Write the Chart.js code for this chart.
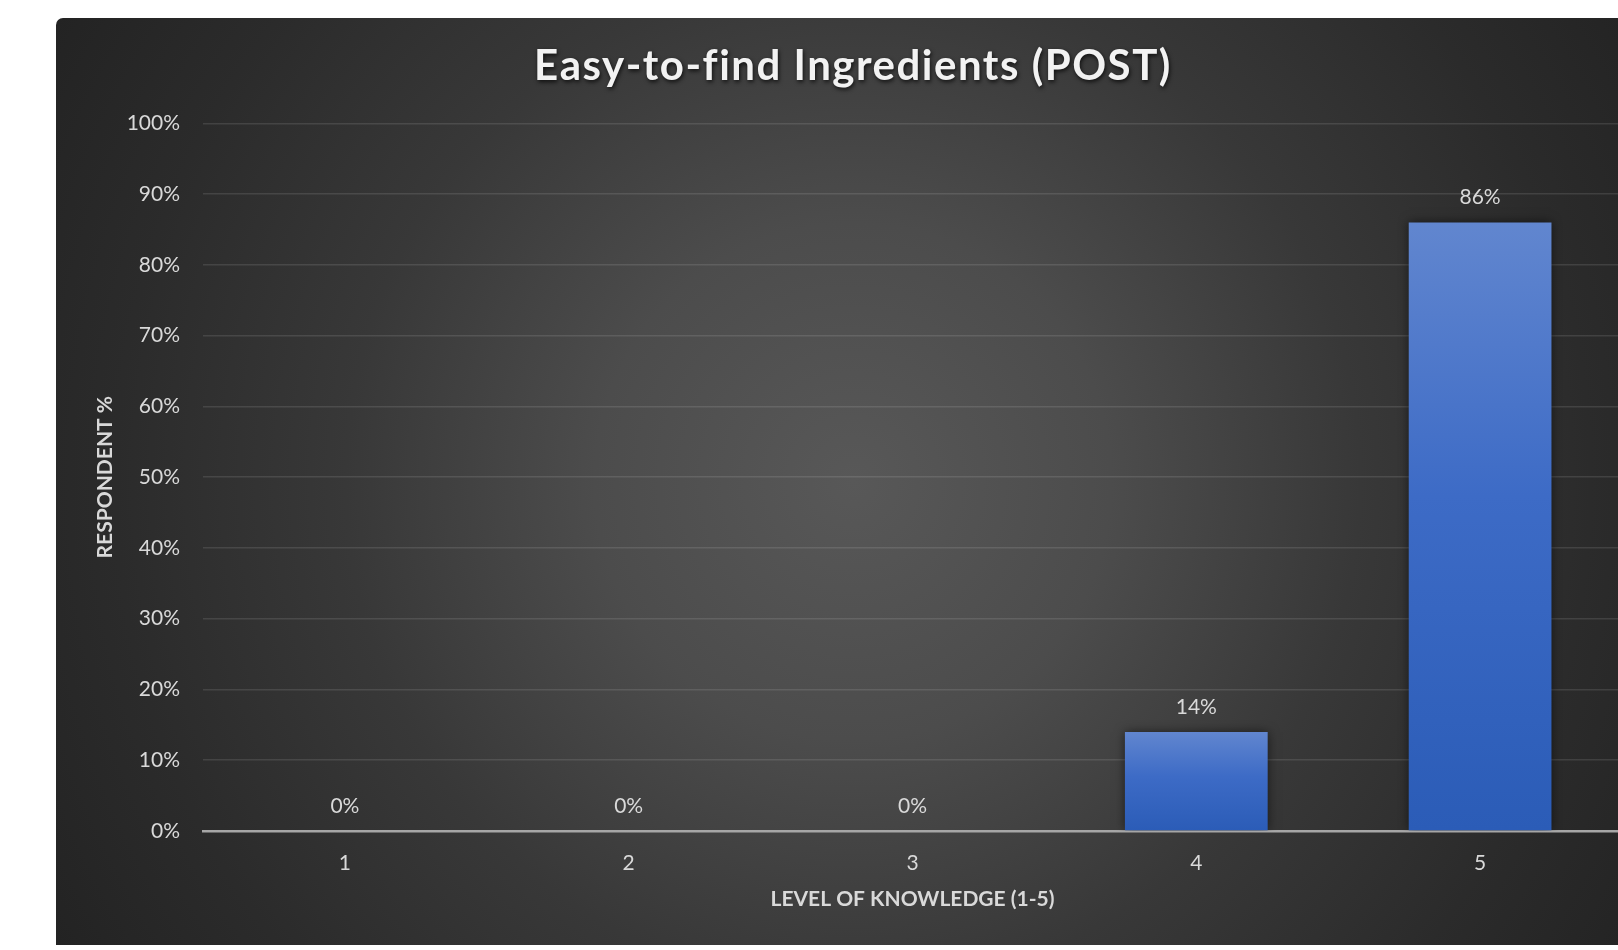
<!DOCTYPE html>
<html>
<head>
<meta charset="utf-8">
<script src="https://cdn.jsdelivr.net/npm/chart.js@4.4.1/dist/chart.umd.min.js"></script>
<style>
  html, body { margin: 0; padding: 0; background: #ffffff; overflow: hidden; width: 1618px; height: 950px; }
  #panel {
    position: absolute; left: 56px; top: 18px; width: 1594px; height: 927px;
    border-top-left-radius: 7px;
    background: radial-gradient(circle farthest-corner at 50% 50%, #585858 0%, #4c4c4c 28%, #383838 55%, #2b2b2b 80%, #232323 100%);
  }
  canvas { display: block; }
</style>
</head>
<body>
<div id="panel"><canvas id="chart" width="1594" height="927"></canvas></div>
<script>
// Survey results: share of respondents at each knowledge level
const levels = ['1', '2', '3', '4', '5'];
const respondentPct = [0, 0, 0, 14, 86];
const yTickValues = [0, 10, 20, 30, 40, 50, 60, 70, 80, 90, 100];

const chartTitle = 'Easy-to-find Ingredients (POST)';
const xTitle = 'LEVEL OF KNOWLEDGE (1-5)';
const yTitle = 'RESPONDENT %';

const FONT = 'Lato, "Open Sans", "DejaVu Sans", sans-serif';
const TEXT = '#d9d9d9';

// Per-bar vertical gradient, light at the top and deeper blue at the base
function barFill(c) {
  const chart = c.chart;
  if (!chart.chartArea || c.raw === undefined) return '#3f6cc4';
  const y = chart.scales.y;
  const top = y.getPixelForValue(c.raw);
  const base = y.getPixelForValue(0);
  if (Math.abs(base - top) < 1) return '#3f6cc4';
  const g = chart.ctx.createLinearGradient(0, top, 0, base);
  g.addColorStop(0, '#6186cf');
  g.addColorStop(0.45, '#3d6bc6');
  g.addColorStop(1, '#2b5cb7');
  return g;
}

// Soft drop shadow behind the bars
const barShadow = {
  id: 'barShadow',
  beforeDatasetDraw(chart) {
    const ctx = chart.ctx;
    ctx.save();
    ctx.shadowColor = 'rgba(0,0,0,0.55)';
    ctx.shadowBlur = 10;
    ctx.shadowOffsetX = 0;
    ctx.shadowOffsetY = 0;
  },
  afterDatasetDraw(chart) {
    chart.ctx.restore();
  }
};

// Value labels above each bar
const valueLabels = {
  id: 'valueLabels',
  afterDatasetsDraw(chart) {
    const ctx = chart.ctx;
    const meta = chart.getDatasetMeta(0);
    ctx.save();
    ctx.font = '21px ' + FONT;
    ctx.fillStyle = TEXT;
    ctx.textAlign = 'center';
    ctx.textBaseline = 'middle';
    meta.data.forEach((bar, i) => {
      const v = chart.data.datasets[0].data[i];
      ctx.fillText(v + '%', bar.x, bar.y - 25);
    });
    ctx.restore();
  }
};

// Title with a soft shadow and slightly widened letter spacing,
// centred on the full panel width rather than the padded box
const titleShadow = {
  id: 'titleShadow',
  afterLayout(chart) {
    const block = chart.titleBlock;
    if (!block || block._wrapped) return;
    const draw = block.draw.bind(block);
    block.draw = function () {
      const ctx = chart.ctx;
      ctx.save();
      ctx.translate(14, 1);
      ctx.shadowColor = 'rgba(0,0,0,0.75)';
      ctx.shadowBlur = 4;
      ctx.shadowOffsetX = 1;
      ctx.shadowOffsetY = 2;
      ctx.letterSpacing = '1.5px';
      draw();
      ctx.restore();
    };
    block._wrapped = true;
  }
};

new Chart(document.getElementById('chart'), {
  type: 'bar',
  data: {
    labels: levels,
    datasets: [{
      data: respondentPct,
      backgroundColor: barFill,
      borderWidth: 0,
      barPercentage: 0.503,
      categoryPercentage: 1
    }]
  },
  options: {
    responsive: false,
    animation: false,
    events: [],
    layout: { padding: { left: 0, right: 28, top: 0, bottom: 0 } },
    plugins: {
      legend: { display: false },
      tooltip: { enabled: false },
      title: {
        display: true,
        text: chartTitle,
        color: '#f2f2f2',
        font: { family: FONT, size: 42, weight: 'bold' },
        padding: { top: 22, bottom: 33 }
      }
    },
    scales: {
      x: {
        z: 1,
        grid: { display: false, drawTicks: false },
        border: { display: true, color: '#a6a6a6', width: 2.5 },
        ticks: { color: TEXT, font: { family: FONT, size: 21 }, padding: 20 },
        title: {
          display: true, text: xTitle, color: TEXT,
          font: { family: FONT, size: 21, weight: 'bold' },
          padding: { top: 0, bottom: 33 }
        },
        afterFit(scale) { scale.height = 114; }
      },
      y: {
        min: 0, max: 100,
        afterBuildTicks(scale) { scale.ticks = yTickValues.map(v => ({ value: v })); },
        grid: {
          drawTicks: false,
          color: c => (c.tick && c.tick.value === 0) ? 'rgba(0,0,0,0)' : 'rgba(255,255,255,0.11)',
          lineWidth: 1.5
        },
        border: { display: false },
        ticks: {
          color: TEXT, font: { family: FONT, size: 21 }, padding: 23,
          callback: v => v + '%'
        },
        title: {
          display: true, text: yTitle, color: TEXT,
          font: { family: FONT, size: 21, weight: 'bold' },
          padding: { top: 37, bottom: 0 }
        },
        afterFit(scale) { scale.width = 147; }
      }
    }
  },
  plugins: [barShadow, valueLabels, titleShadow]
});
</script>
</body>
</html>
